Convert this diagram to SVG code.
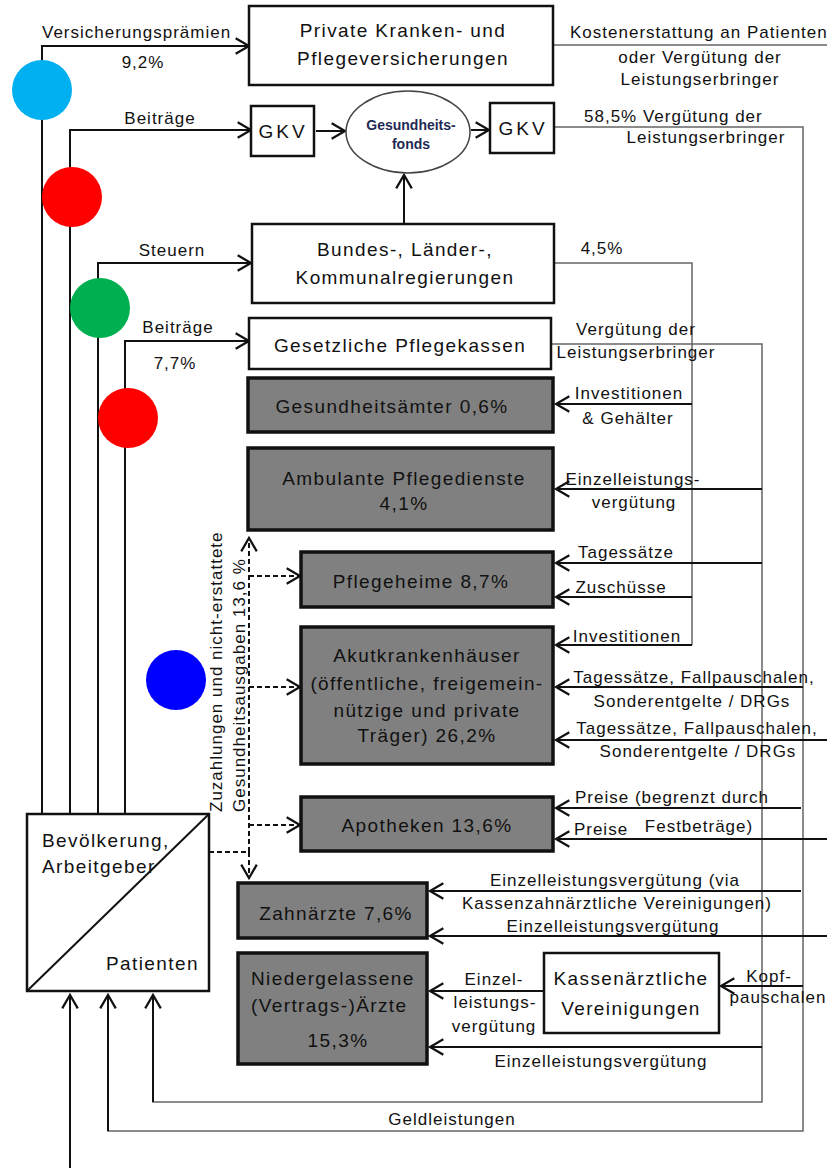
<svg xmlns="http://www.w3.org/2000/svg" width="827" height="1168" viewBox="0 0 827 1168">
<defs>
<style>
text{font-family:"Liberation Sans",Arial,sans-serif;fill:#111}
.t{font-size:19px;letter-spacing:1.4px}
.l{font-size:17px;letter-spacing:1px}
.c{text-anchor:middle}
.box{fill:#fff;stroke:#111;stroke-width:2.5}
.gbox{fill:#808080;stroke:#111;stroke-width:3.5}
.ln{fill:none;stroke:#111;stroke-width:2}
.thin{fill:none;stroke:#666;stroke-width:1.5}
.dash{fill:none;stroke:#111;stroke-width:2;stroke-dasharray:5 3}
.fd{font-size:14px;font-weight:bold;fill:#1F2A55;text-anchor:middle}
</style>
<marker id="ah" markerUnits="userSpaceOnUse" markerWidth="20" markerHeight="20" viewBox="-14 -9 16 18" refX="0" refY="0" orient="auto">
<path d="M-12,-7 L0,0 L-12,7" fill="none" stroke="#111" stroke-width="2" stroke-dasharray="none"/>
</marker>
</defs>
<rect width="827" height="1168" fill="#fff"/>

<g id="connectors">
<path class="ln" d="M42,814 V46 H249" marker-end="url(#ah)"/>
<path class="ln" d="M70,814 V130 H251" marker-end="url(#ah)"/>
<path class="ln" d="M98,814 V263 H251" marker-end="url(#ah)"/>
<path class="ln" d="M125,814 V341 H249" marker-end="url(#ah)"/>
<path class="ln" d="M316,131 H345" marker-end="url(#ah)"/>
<path class="ln" d="M471,130 H489" marker-end="url(#ah)"/>
<path class="ln" d="M404,223 V175" marker-end="url(#ah)"/>
<path class="thin" d="M553,45 H827"/>
<path class="thin" d="M554,127 H803 V1131 H108 V995"/>
<path class="thin" d="M554,263 H692 V645"/>
<path class="thin" d="M551,344 H762 V1102 H153 V995"/>
<path class="ln" d="M108,1131 V995" marker-end="url(#ah)"/>
<path class="ln" d="M153,1102 V995" marker-end="url(#ah)"/>
<path class="ln" d="M70,1168 V995" marker-end="url(#ah)"/>
<path class="ln" d="M692,404 H556" marker-end="url(#ah)"/>
<path class="ln" d="M762,489 H556" marker-end="url(#ah)"/>
<path class="ln" d="M762,563 H556" marker-end="url(#ah)"/>
<path class="ln" d="M692,597 H556" marker-end="url(#ah)"/>
<path class="ln" d="M692,645 H556" marker-end="url(#ah)"/>
<path class="ln" d="M803,687 H556" marker-end="url(#ah)"/>
<path class="ln" d="M827,740 H556" marker-end="url(#ah)"/>
<path class="ln" d="M801,808 H556" marker-end="url(#ah)"/>
<path class="ln" d="M827,839 H556" marker-end="url(#ah)"/>
<path class="ln" d="M801,891 H430" marker-end="url(#ah)"/>
<path class="ln" d="M827,936 H430" marker-end="url(#ah)"/>
<path class="ln" d="M803,986 H721" marker-end="url(#ah)"/>
<path class="ln" d="M544,991 H430" marker-end="url(#ah)"/>
<path class="ln" d="M762,1047 H430" marker-end="url(#ah)"/>
<path class="dash" d="M209,852 H249"/>
<path class="dash" d="M249,852 V538" marker-end="url(#ah)"/>
<path class="dash" d="M249,852 V878" marker-end="url(#ah)"/>
<path class="dash" d="M249,576 H300" marker-end="url(#ah)"/>
<path class="dash" d="M249,687 H300" marker-end="url(#ah)"/>
<path class="dash" d="M249,825 H300" marker-end="url(#ah)"/>
</g>

<g id="labels">
<text class="l" x="42" y="38">Versicherungsprämien</text>
<text class="l c" x="143" y="68">9,2%</text>
<text class="l" x="570" y="38">Kostenerstattung an Patienten</text>
<text class="l c" x="700" y="63">oder Vergütung der</text>
<text class="l c" x="700" y="85">Leistungserbringer</text>
<text class="l c" x="160" y="124">Beiträge</text>
<text class="l" x="584" y="122">58,5% Vergütung der</text>
<text class="l c" x="706" y="143">Leistungserbringer</text>
<text class="l c" x="172" y="256">Steuern</text>
<text class="l c" x="602" y="254">4,5%</text>
<text class="l c" x="178" y="333">Beiträge</text>
<text class="l c" x="175" y="369">7,7%</text>
<text class="l c" x="636" y="335">Vergütung der</text>
<text class="l c" x="636" y="358">Leistungserbringer</text>
<text class="l c" x="629" y="399">Investitionen</text>
<text class="l c" x="628" y="424">&amp; Gehälter</text>
<text class="l c" x="633" y="485">Einzelleistungs-</text>
<text class="l c" x="634" y="508">vergütung</text>
<text class="l c" x="626" y="558">Tagessätze</text>
<text class="l c" x="621" y="593">Zuschüsse</text>
<text class="l c" x="627" y="642">Investitionen</text>
<text class="l c" x="694" y="683">Tagessätze, Fallpauschalen,</text>
<text class="l c" x="692" y="707">Sonderentgelte / DRGs</text>
<text class="l c" x="697" y="734">Tagessätze, Fallpauschalen,</text>
<text class="l c" x="698" y="757">Sonderentgelte / DRGs</text>
<text class="l c" x="672" y="803">Preise (begrenzt durch</text>
<text class="l c" x="699" y="832">Festbeträge)</text>
<text class="l c" x="601" y="835">Preise</text>
<text class="l c" x="615" y="886">Einzelleistungsvergütung (via</text>
<text class="l c" x="617" y="909">Kassenzahnärztliche Vereinigungen)</text>
<text class="l c" x="613" y="932">Einzelleistungsvergütung</text>
<text class="l c" x="769" y="982">Kopf-</text>
<text class="l c" x="778" y="1003">pauschalen</text>
<text class="l c" x="494" y="985">Einzel-</text>
<text class="l c" x="495" y="1008">leistungs-</text>
<text class="l c" x="494" y="1032">vergütung</text>
<text class="l c" x="601" y="1067">Einzelleistungsvergütung</text>
<text class="l c" x="452" y="1125">Geldleistungen</text>
<text class="l" transform="translate(222,812) rotate(-90)">Zuzahlungen und nicht-erstattete</text>
<text class="l" transform="translate(245,812) rotate(-90)">Gesundheitsausgaben 13,6 %</text>
</g>

<g id="circles">
<circle cx="42" cy="90" r="30" fill="#00B0F0"/>
<circle cx="72" cy="197" r="30" fill="#FF0000"/>
<circle cx="100" cy="308" r="30" fill="#00B050"/>
<circle cx="128" cy="418" r="30" fill="#FF0000"/>
<circle cx="176" cy="680" r="30" fill="#0000FF"/>
</g>

<g id="private">
<rect class="box" x="249" y="6" width="304" height="79"/>
<text class="t c" x="403" y="37">Private Kranken- und</text>
<text class="t c" x="403" y="65">Pflegeversicherungen</text>
</g>
<g id="gkv1">
<rect class="box" x="251" y="106" width="63" height="50"/>
<text class="t c" x="283" y="138" style="letter-spacing:3px">GKV</text>
</g>
<g id="fonds">
<ellipse cx="408" cy="132" rx="62" ry="41" fill="#fff" stroke="#444" stroke-width="1.5"/>
<text class="fd" x="411" y="130">Gesundheits-</text>
<text class="fd" x="411" y="149">fonds</text>
</g>
<g id="gkv2">
<rect class="box" x="490" y="103" width="64" height="50"/>
<text class="t c" x="523" y="135" style="letter-spacing:3px">GKV</text>
</g>
<g id="regierungen">
<rect class="box" x="252" y="224" width="302" height="79"/>
<text class="t c" x="405" y="256">Bundes-, Länder-,</text>
<text class="t c" x="405" y="284">Kommunalregierungen</text>
</g>
<g id="pflegekassen">
<rect class="box" x="249" y="318" width="302" height="51"/>
<text class="t c" x="400" y="352">Gesetzliche Pflegekassen</text>
</g>
<g id="gesundheitsaemter">
<rect class="gbox" x="248" y="378" width="305" height="54"/>
<text class="t c" x="392" y="413">Gesundheitsämter 0,6%</text>
</g>
<g id="ambulante">
<rect class="gbox" x="248" y="448" width="305" height="82"/>
<text class="t c" x="404" y="485">Ambulante Pflegedienste</text>
<text class="t c" x="404" y="510">4,1%</text>
</g>
<g id="pflegeheime">
<rect class="gbox" x="301" y="552" width="252" height="55"/>
<text class="t c" x="421" y="588">Pflegeheime 8,7%</text>
</g>
<g id="akut">
<rect class="gbox" x="301" y="627" width="252" height="137"/>
<text class="t c" x="427" y="662">Akutkrankenhäuser</text>
<text class="t c" x="427" y="690">(öffentliche, freigemein-</text>
<text class="t c" x="427" y="717">nützige und private</text>
<text class="t c" x="427" y="742">Träger) 26,2%</text>
</g>
<g id="apotheken">
<rect class="gbox" x="301" y="797" width="252" height="54"/>
<text class="t c" x="427" y="832">Apotheken 13,6%</text>
</g>
<g id="zahnaerzte">
<rect class="gbox" x="238" y="883" width="189" height="55"/>
<text class="t c" x="336" y="920">Zahnärzte 7,6%</text>
</g>
<g id="aerzte">
<rect class="gbox" x="238" y="953" width="189" height="111"/>
<text class="t" x="251" y="985">Niedergelassene</text>
<text class="t" x="251" y="1012">(Vertrags-)Ärzte</text>
<text class="t c" x="338" y="1047">15,3%</text>
</g>
<g id="kv">
<rect class="box" x="544" y="953" width="175" height="80"/>
<text class="t c" x="631" y="985">Kassenärztliche</text>
<text class="t c" x="631" y="1015">Vereinigungen</text>
</g>
<g id="bevoelkerung">
<rect class="box" x="27" y="814" width="182" height="177"/>
<path class="ln" d="M27,991 L209,814"/>
<text class="t" x="42" y="847">Bevölkerung,</text>
<text class="t" x="42" y="873">Arbeitgeber</text>
<text class="t" x="106" y="970">Patienten</text>
</g>
</svg>
